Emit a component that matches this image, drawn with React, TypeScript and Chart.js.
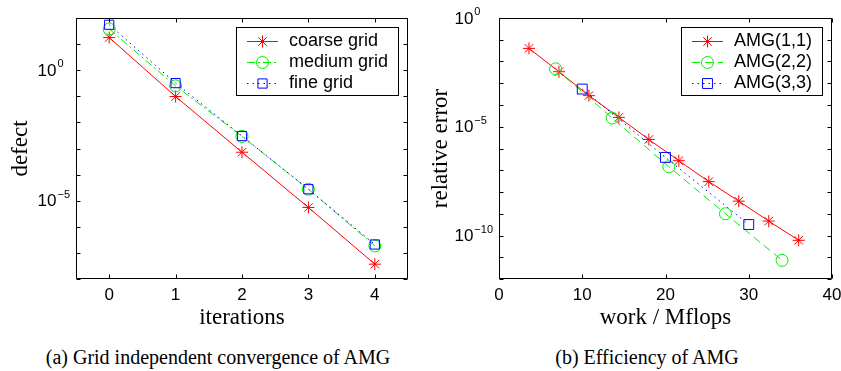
import React, { useEffect, useRef } from 'react';
import { Chart, registerables } from 'chart.js';

Chart.register(...registerables);

const SANS = '"Liberation Sans", Arial, Helvetica, sans-serif';
const SERIF = '"Liberation Serif", "Times New Roman", serif';

// ---------- (a) Grid independent convergence of AMG ----------
const iterations = [0, 1, 2, 3, 4];
const coarseDefect = [17.8, 0.098, 7.2e-4, 5.5e-6, 3.7e-8];
const mediumDefect = [38, 0.25, 2.9e-3, 2.75e-5, 1.85e-7];
const fineDefect = [55, 0.32, 3.0e-3, 2.75e-5, 2.1e-7];
const leftXTicks = [0, 1, 2, 3, 4];
const leftDecades = [2, 1, 0, -1, -2, -3, -4, -5, -6, -7, -8];
const leftLabeledDecades = [0, -5];
const leftNames = ['coarse grid', 'medium grid', 'fine grid'];

// ---------- (b) Efficiency of AMG ----------
const amg11Work = [3.6, 7.2, 10.8, 14.4, 18.0, 21.6, 25.2, 28.8, 32.4, 36.0];
const amg11Error = [0.04, 3.4e-3, 2.7e-4, 2.7e-5, 2.6e-6, 2.75e-7, 3.0e-8, 3.8e-9, 4.6e-10, 6.0e-11];
const amg22Work = [6.8, 13.6, 20.4, 27.2, 34.0];
const amg22Error = [4.6e-3, 2.5e-5, 1.45e-7, 1.0e-9, 7.2e-12];
const amg33Work = [10, 20, 30];
const amg33Error = [5.4e-4, 3.9e-7, 3.2e-10];
const rightXTicks = [0, 10, 20, 30, 40];
const rightDecades = [0, -1, -2, -3, -4, -5, -6, -7, -8, -9, -10, -11, -12];
const rightLabeledDecades = [0, -5, -10];
const rightNames = ['AMG(1,1)', 'AMG(2,2)', 'AMG(3,3)'];

const RED = '#ff0000';
const GREEN = '#00ee00';
const BLUE = '#0000ff';

type Marker = 'star' | 'circle' | 'rect';

interface SeriesStyle {
  color: string;
  dash: number[];
  marker: Marker;
  radius: number;
}

function drawMarker(ctx: CanvasRenderingContext2D, m: Marker, x: number, y: number, r: number, color: string) {
  ctx.save();
  ctx.setLineDash([]);
  ctx.strokeStyle = color;
  ctx.lineWidth = 1;
  ctx.beginPath();
  if (m === 'star') {
    const d = r * Math.SQRT1_2;
    ctx.moveTo(x - r, y); ctx.lineTo(x + r, y);
    ctx.moveTo(x, y - r); ctx.lineTo(x, y + r);
    ctx.moveTo(x - d, y - d); ctx.lineTo(x + d, y + d);
    ctx.moveTo(x - d, y + d); ctx.lineTo(x + d, y - d);
  } else if (m === 'circle') {
    ctx.arc(x, y, r, 0, Math.PI * 2);
  } else {
    const s = r * Math.SQRT1_2;
    ctx.rect(x - s, y - s, 2 * s, 2 * s);
  }
  ctx.stroke();
  ctx.restore();
}

interface AxesCfg {
  xTicks: number[];
  decades: number[];
  labeled: number[];
  names: string[];
  styles: SeriesStyle[];
}

function makeAxesPlugin(cfg: AxesCfg) {
  return {
    id: 'matlabAxes',
    afterDraw(chart: any) {
      const { ctx, chartArea: a, scales } = chart;
      const xs = scales.x;
      const ys = scales.y;
      ctx.save();
      ctx.setLineDash([]);
      ctx.strokeStyle = '#000';
      ctx.lineWidth = 1;
      const L = Math.round(a.left) + 0.5;
      const R = Math.round(a.right) - 0.5;
      const T = Math.round(a.top) + 0.5;
      const B = Math.round(a.bottom) - 0.5;
      ctx.beginPath();
      ctx.rect(L, T, R - L, B - T);
      const tl = 4;
      cfg.xTicks.forEach((v) => {
        const px = Math.round(xs.getPixelForValue(v)) + 0.5;
        ctx.moveTo(px, B); ctx.lineTo(px, B - tl);
        ctx.moveTo(px, T); ctx.lineTo(px, T + tl);
      });
      cfg.decades.forEach((e) => {
        const py = Math.round(ys.getPixelForValue(Math.pow(10, e))) + 0.5;
        ctx.moveTo(L, py); ctx.lineTo(L + tl, py);
        ctx.moveTo(R, py); ctx.lineTo(R - tl, py);
      });
      ctx.stroke();

      // y tick labels 10^e
      ctx.fillStyle = '#000';
      const baseFont = `17px ${SANS}`;
      const expFont = `11px ${SANS}`;
      const expText = (e: number) => (e === 0 ? '0' : '\u2212' + Math.abs(e));
      ctx.font = baseFont;
      const baseW = ctx.measureText('10').width;
      ctx.font = expFont;
      let maxExp = 0;
      cfg.labeled.forEach((e) => { maxExp = Math.max(maxExp, ctx.measureText(expText(e)).width); });
      const startX = a.left - 6 - (baseW + 1 + maxExp);
      cfg.labeled.forEach((e) => {
        const py = ys.getPixelForValue(Math.pow(10, e));
        ctx.font = baseFont;
        ctx.textAlign = 'left';
        ctx.textBaseline = 'middle';
        ctx.fillText('10', startX, py + 1);
        ctx.font = expFont;
        ctx.textBaseline = 'alphabetic';
        ctx.fillText(expText(e), startX + baseW + 1, py - 3);
      });

      // legend
      ctx.font = `18px ${SANS}`;
      let tw = 0;
      cfg.names.forEach((n) => { tw = Math.max(tw, ctx.measureText(n).width); });
      const boxW = Math.round(11 + 31 + 11 + tw + 11);
      const boxR = Math.round(a.right) - 9;
      const boxL = boxR - boxW;
      const boxT = Math.round(a.top) + 9;
      const rowH = 21;
      const boxH = 14 + rowH * (cfg.names.length - 1) + 13;
      ctx.fillStyle = '#fff';
      ctx.fillRect(boxL, boxT, boxW, boxH);
      ctx.strokeStyle = '#000';
      ctx.lineWidth = 1;
      ctx.strokeRect(boxL + 0.5, boxT + 0.5, boxW - 1, boxH - 1);
      cfg.names.forEach((n, i) => {
        const st = cfg.styles[i];
        const cy = boxT + 14 + i * rowH + 0.5;
        ctx.save();
        ctx.strokeStyle = st.color;
        ctx.lineWidth = 1;
        ctx.setLineDash(st.dash);
        ctx.beginPath();
        ctx.moveTo(boxL + 11, cy);
        ctx.lineTo(boxL + 42, cy);
        ctx.stroke();
        ctx.restore();
        drawMarker(ctx, st.marker, boxL + 26.5, cy, st.radius, st.color);
        ctx.fillStyle = '#000';
        ctx.font = `18px ${SANS}`;
        ctx.textAlign = 'left';
        ctx.textBaseline = 'middle';
        ctx.fillText(n, boxL + 53, cy);
      });
      ctx.restore();
    },
  };
}

interface PanelProps {
  width: number;
  height: number;
  left: number;
  chartLeft: number;
  chartRight: number;
  chartTop: number;
  chartBottom: number;
  xMin: number;
  xMax: number;
  yMin: number;
  yMax: number;
  xTitle: string;
  yTitle: string;
  series: { x: number[]; y: number[] }[];
  cfg: AxesCfg;
}

function Panel(p: PanelProps) {
  const ref = useRef<HTMLCanvasElement | null>(null);
  useEffect(() => {
    if (!ref.current) return;
    const datasets = p.series.map((s, i) => {
      const st = p.cfg.styles[i];
      return {
        label: p.cfg.names[i],
        data: s.x.map((x, k) => ({ x, y: s.y[k] })),
        borderColor: st.color,
        borderWidth: 1,
        borderDash: st.dash,
        backgroundColor: 'rgba(0,0,0,0)',
        pointStyle: st.marker,
        pointRadius: st.marker === 'rect' ? st.radius : st.radius,
        pointBorderColor: st.color,
        pointBackgroundColor: 'rgba(0,0,0,0)',
        pointBorderWidth: 1,
        tension: 0,
        fill: false,
        order: p.series.length - i,
      };
    });
    const chart = new Chart(ref.current, {
      type: 'line',
      data: { datasets },
      options: {
        responsive: false,
        animation: false,
        events: [],
        layout: {
          padding: { left: 0, top: p.chartTop, right: p.width - p.chartRight, bottom: 0 },
        },
        plugins: { legend: { display: false }, tooltip: { enabled: false } },
        scales: {
          x: {
            type: 'linear',
            min: p.xMin,
            max: p.xMax,
            grid: { display: false, drawTicks: false },
            border: { display: false },
            ticks: { color: '#000', font: { family: SANS, size: 17 }, padding: 6, maxRotation: 0 },
            afterBuildTicks: (s: any) => { s.ticks = p.cfg.xTicks.map((v) => ({ value: v })); },
            afterFit: (s: any) => {
              s.height = p.height - p.chartBottom;
              s.paddingLeft = 0; s.paddingRight = 0;
            },
            title: {
              display: true,
              text: p.xTitle,
              color: '#000',
              font: { family: SERIF, size: 23 },
              padding: { top: 0, bottom: 13 },
            },
          },
          y: {
            type: 'logarithmic',
            min: p.yMin,
            max: p.yMax,
            grid: { display: false, drawTicks: false },
            border: { display: false },
            ticks: { display: false },
            afterFit: (s: any) => {
              s.width = p.chartLeft;
              s.paddingTop = 0; s.paddingBottom = 0;
            },
            title: {
              display: true,
              text: p.yTitle,
              color: '#000',
              font: { family: SERIF, size: 23 },
              padding: { top: 7, bottom: 0 },
            },
          },
        },
      },
      plugins: [makeAxesPlugin(p.cfg)],
    } as any);
    return () => chart.destroy();
  }, []);
  return (
    <canvas
      ref={ref}
      width={p.width}
      height={p.height}
      style={{ position: 'absolute', left: p.left, top: 0, width: p.width, height: p.height, display: 'block' }}
    />
  );
}

const leftStyles: SeriesStyle[] = [
  { color: RED, dash: [], marker: 'star', radius: 6 },
  { color: GREEN, dash: [8, 3, 2, 3], marker: 'circle', radius: 6 },
  { color: BLUE, dash: [1.5, 4], marker: 'rect', radius: 6.5 },
];
const rightStyles: SeriesStyle[] = [
  { color: RED, dash: [], marker: 'star', radius: 6 },
  { color: GREEN, dash: [8, 5], marker: 'circle', radius: 6 },
  { color: BLUE, dash: [1.5, 4], marker: 'rect', radius: 7 },
];

const captionStyle: React.CSSProperties = {
  position: 'absolute',
  top: 346,
  fontFamily: SERIF,
  fontSize: 20,
  lineHeight: '23px',
  color: '#000',
  whiteSpace: 'nowrap',
  transform: 'translateX(-50%)',
};

export default function App() {
  return (
    <div style={{ position: 'absolute', left: 0, top: 0, width: 841, height: 371, background: '#fff', overflow: 'hidden' }}>
      <Panel
        width={420}
        height={345}
        left={0}
        chartLeft={76}
        chartRight={408}
        chartTop={18}
        chartBottom={279}
        xMin={-0.5}
        xMax={4.5}
        yMin={1e-8}
        yMax={1e2}
        xTitle="iterations"
        yTitle="defect"
        series={[
          { x: iterations, y: coarseDefect },
          { x: iterations, y: mediumDefect },
          { x: iterations, y: fineDefect },
        ]}
        cfg={{ xTicks: leftXTicks, decades: leftDecades, labeled: leftLabeledDecades, names: leftNames, styles: leftStyles }}
      />
      <Panel
        width={421}
        height={345}
        left={420}
        chartLeft={79}
        chartRight={412}
        chartTop={18}
        chartBottom={279}
        xMin={0}
        xMax={40}
        yMin={1e-12}
        yMax={1}
        xTitle="work / Mflops"
        yTitle="relative error"
        series={[
          { x: amg11Work, y: amg11Error },
          { x: amg22Work, y: amg22Error },
          { x: amg33Work, y: amg33Error },
        ]}
        cfg={{ xTicks: rightXTicks, decades: rightDecades, labeled: rightLabeledDecades, names: rightNames, styles: rightStyles }}
      />
      <div style={{ ...captionStyle, left: 218 }}>(a) Grid independent convergence of AMG</div>
      <div style={{ ...captionStyle, left: 647 }}>(b) Efficiency of AMG</div>
    </div>
  );
}
